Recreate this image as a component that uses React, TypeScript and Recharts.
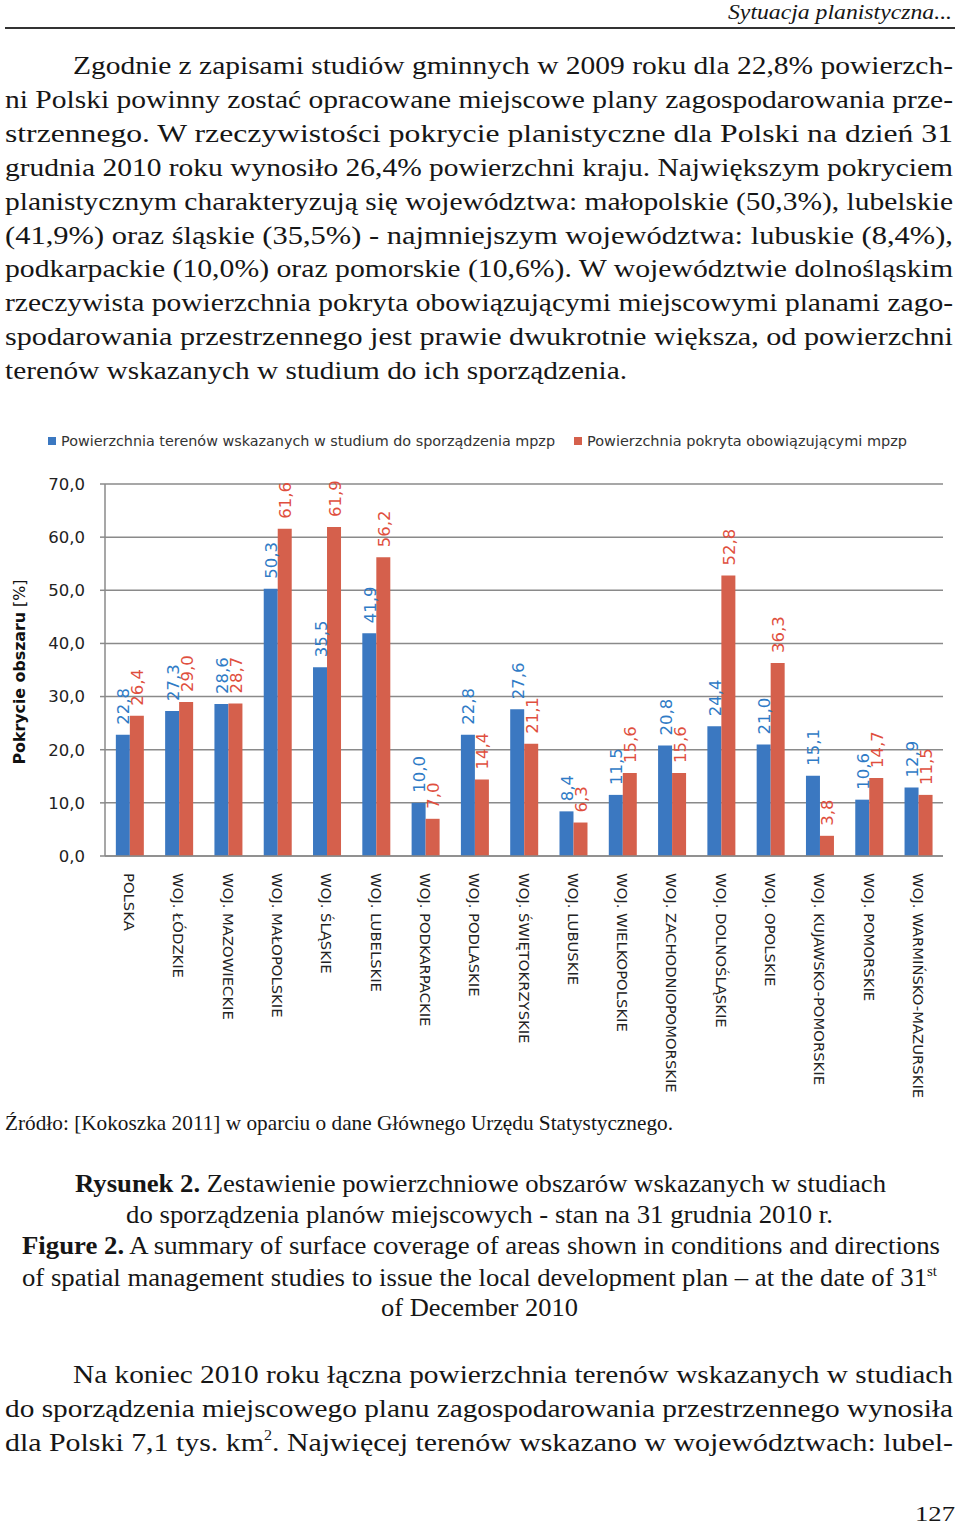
import React from "react";
import { BarChart, Bar, XAxis, YAxis, CartesianGrid, LabelList } from "recharts";

const categories = [
  "POLSKA",
  "WOJ. ŁÓDZKIE",
  "WOJ. MAZOWIECKIE",
  "WOJ. MAŁOPOLSKIE",
  "WOJ. ŚLĄSKIE",
  "WOJ. LUBELSKIE",
  "WOJ. PODKARPACKIE",
  "WOJ. PODLASKIE",
  "WOJ. ŚWIĘTOKRZYSKIE",
  "WOJ. LUBUSKIE",
  "WOJ. WIELKOPOLSKIE",
  "WOJ. ZACHODNIOPOMORSKIE",
  "WOJ. DOLNOŚLĄSKIE",
  "WOJ. OPOLSKIE",
  "WOJ. KUJAWSKO-POMORSKIE",
  "WOJ. POMORSKIE",
  "WOJ. WARMIŃSKO-MAZURSKIE",
];
const studiumValues = [22.8, 27.3, 28.6, 50.3, 35.5, 41.9, 10.0, 22.8, 27.6, 8.4, 11.5, 20.8, 24.4, 21.0, 15.1, 10.6, 12.9];
const mpzpValues = [26.4, 29.0, 28.7, 61.6, 61.9, 56.2, 7.0, 14.4, 21.1, 6.3, 15.6, 15.6, 52.8, 36.3, 3.8, 14.7, 11.5];
const seriesNames = [
  "Powierzchnia terenów wskazanych w studium do sporządzenia mpzp",
  "Powierzchnia pokryta obowiązującymi mpzp",
];
const yTicks = [0, 10, 20, 30, 40, 50, 60, 70];
const yTitle = "Pokrycie obszaru";
const yUnit = "[%]";

const BLUE = "#3b78c1";
const RED = "#d5604c";
const BLUE_TXT = "#2f7bc6";
const RED_TXT = "#df4f3e";

const data = categories.map((c, i) => ({ name: c, studium: studiumValues[i], mpzp: mpzpValues[i] }));

const fmt = (v: number) => v.toFixed(1).replace(".", ",");

const SERIF = "'Liberation Serif', 'Times New Roman', serif";
const SANS = "'DejaVu Sans', Verdana, sans-serif";
const INK = "#161616";

const makeLabel = (color: string) => (props: any) => {
  const { x, y, width, value } = props;
  const cx = Number(x) + Number(width) / 2 + 1;
  const cy = Number(y) - 10;
  return (
    <text
      transform={`translate(${cx},${cy}) rotate(-90)`}
      x={0}
      y={0}
      textAnchor="start"
      dominantBaseline="central"
      fontSize={16.5}
      fontFamily={SANS}
      fill={color}
    >
      {fmt(Number(value))}
    </text>
  );
};

const XTick = (props: any) => {
  const { x, y, payload } = props;
  return (
    <text
      transform={`translate(${x},${y}) rotate(90)`}
      x={0}
      y={0}
      textAnchor="start"
      dominantBaseline="central"
      fontSize={14.8}
      fontFamily={SANS}
      fill="#222"
    >
      {payload.value}
    </text>
  );
};

type LineProps = { x: number; y: number; w: number; size?: number; children: any; italic?: boolean };
const Line = ({ x, y, w, size = 26, children, italic }: LineProps) => (
  <text
    x={x}
    y={y}
    textLength={w}
    lengthAdjust="spacingAndGlyphs"
    fontSize={size}
    fontFamily={SERIF}
    fontStyle={italic ? "italic" : "normal"}
    fill={INK}
  >
    {children}
  </text>
);

const para1 = [
  "Zgodnie z zapisami studiów gminnych w 2009 roku dla 22,8% powierzch-",
  "ni Polski powinny zostać opracowane miejscowe plany zagospodarowania prze-",
  "strzennego. W rzeczywistości pokrycie planistyczne dla Polski na dzień 31",
  "grudnia 2010 roku wynosiło 26,4% powierzchni kraju. Największym pokryciem",
  "planistycznym charakteryzują się województwa:  małopolskie (50,3%), lubelskie",
  "(41,9%) oraz śląskie (35,5%) - najmniejszym województwa: lubuskie (8,4%),",
  "podkarpackie (10,0%) oraz pomorskie (10,6%). W województwie  dolnośląskim",
  "rzeczywista powierzchnia pokryta obowiązującymi miejscowymi planami zago-",
  "spodarowania przestrzennego jest prawie dwukrotnie większa,  od powierzchni",
  "terenów wskazanych w studium do ich sporządzenia.",
];

export default function App() {
  return (
    <div style={{ position: "absolute", left: 0, top: 0, width: 960, height: 1527, background: "#fff", overflow: "hidden" }}>
      <div style={{ position: "absolute", left: 0, top: 420, width: 960, height: 700 }}>
        <BarChart
          width={960}
          height={700}
          data={data}
          margin={{ top: 64, right: 17, bottom: 14, left: 5 }}
          barCategoryGap="22%"
          barGap={0}
        >
          <CartesianGrid horizontal vertical={false} stroke="#8a8a8a" strokeWidth={1.5} />
          <XAxis
            dataKey="name"
            interval={0}
            height={250}
            tickLine={false}
            tickSize={0}
            tickMargin={17}
            axisLine={{ stroke: "#8a8a8a", strokeWidth: 1.5 }}
            tick={<XTick />}
          />
          <YAxis
            width={100}
            domain={[0, 70]}
            ticks={yTicks}
            tickFormatter={fmt}
            tickSize={5}
            tickMargin={15}
            tickLine={{ stroke: "#8a8a8a", strokeWidth: 1.5 }}
            axisLine={{ stroke: "#8a8a8a", strokeWidth: 1.5 }}
            tick={{ fontSize: 16.5, fontFamily: SANS, fill: "#222" }}
            allowDataOverflow
          />
          <Bar dataKey="studium" name={seriesNames[0]} fill={BLUE} isAnimationActive={false}>
            <LabelList dataKey="studium" content={makeLabel(BLUE_TXT)} />
          </Bar>
          <Bar dataKey="mpzp" name={seriesNames[1]} fill={RED} isAnimationActive={false}>
            <LabelList dataKey="mpzp" content={makeLabel(RED_TXT)} />
          </Bar>
        </BarChart>
      </div>

      <svg
        width={960}
        height={1527}
        style={{ position: "absolute", left: 0, top: 0, pointerEvents: "none" }}
      >
        {/* running header */}
        <Line x={728} y={19} w={224} size={20} italic>
          Sytuacja planistyczna...
        </Line>
        <rect x={5} y={27} width={950} height={2} fill="#333" />

        {/* first paragraph */}
        {para1.map((t, i) => (
          <Line
            key={i}
            x={i === 0 ? 73 : 5}
            y={74 + i * 33.9}
            w={i === 0 ? 880 : i === para1.length - 1 ? 622 : 948}
          >
            {t}
          </Line>
        ))}

        {/* legend */}
        <rect x={48} y={437} width={8} height={8} fill={BLUE} />
        <text x={61} y={446} textLength={494} lengthAdjust="spacingAndGlyphs" fontSize={14} fontFamily={SANS} fill="#333">
          {seriesNames[0]}
        </text>
        <rect x={574} y={437} width={8} height={8} fill={RED} />
        <text x={587} y={446} textLength={320} lengthAdjust="spacingAndGlyphs" fontSize={14} fontFamily={SANS} fill="#333">
          {seriesNames[1]}
        </text>

        {/* y axis title */}
        <text
          transform="translate(20,672) rotate(-90)"
          textAnchor="middle"
          dominantBaseline="central"
          textLength={185}
          lengthAdjust="spacingAndGlyphs"
          fontSize={15}
          fontFamily={SANS}
          fill="#111"
        >
          <tspan fontWeight="bold">{yTitle}</tspan>
          <tspan> {yUnit}</tspan>
        </text>

        {/* source */}
        <Line x={5} y={1130} w={668} size={21}>
          Źródło: [Kokoszka 2011] w oparciu o dane Głównego Urzędu Statystycznego.
        </Line>

        {/* captions */}
        <Line x={75} y={1192} w={811} size={25}>
          <tspan fontWeight="bold">Rysunek 2.</tspan> Zestawienie powierzchniowe obszarów wskazanych w studiach
        </Line>
        <Line x={126} y={1223} w={707} size={25}>
          do sporządzenia planów miejscowych - stan na 31 grudnia 2010 r.
        </Line>
        <Line x={22} y={1254} w={918} size={25}>
          <tspan fontWeight="bold">Figure 2.</tspan> A summary of surface coverage of areas shown in conditions and directions
        </Line>
        <Line x={22} y={1286} w={915} size={25}>
          of spatial management studies to issue the local development plan – at the date of 31
          <tspan fontSize={14} dy={-10}>st</tspan>
        </Line>
        <Line x={381} y={1316} w={197} size={25}>
          of December 2010
        </Line>

        {/* second paragraph */}
        <Line x={73} y={1383} w={880}>
          Na koniec 2010 roku łączna powierzchnia terenów wskazanych w studiach
        </Line>
        <Line x={5} y={1417} w={948}>
          do sporządzenia miejscowego planu zagospodarowania przestrzennego wynosiła
        </Line>
        <Line x={5} y={1451} w={948}>
          dla Polski 7,1 tys. km<tspan fontSize={14} dy={-11}>2</tspan>
          <tspan dy={11}>. Najwięcej terenów wskazano w województwach: lubel-</tspan>
        </Line>

        {/* page number */}
        <Line x={915} y={1521} w={40} size={22}>
          127
        </Line>
      </svg>
    </div>
  );
}
